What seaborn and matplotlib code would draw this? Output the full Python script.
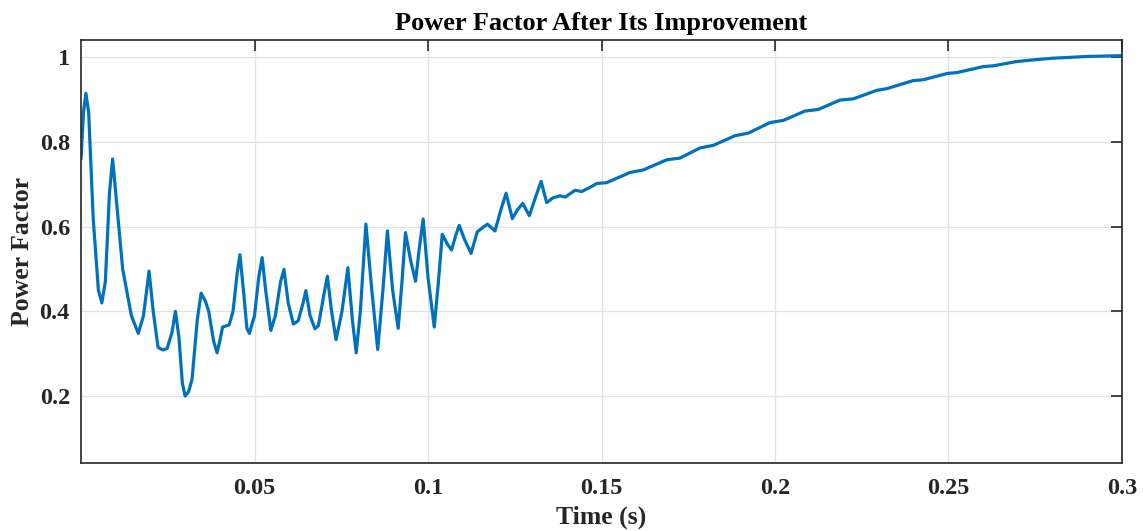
import numpy as np
import pandas as pd
import seaborn as sns
import matplotlib
matplotlib.use('Agg')
import matplotlib.pyplot as plt

# values
time_s = [0.0000, 0.0007, 0.0014, 0.0022, 0.0035, 0.0050, 0.0060, 0.0070, 0.0082, 0.0091,
          0.0100, 0.0120, 0.0145, 0.0165, 0.0180, 0.0196, 0.0208, 0.0222, 0.0235, 0.0248,
          0.0262, 0.0272, 0.0282, 0.0292, 0.0300, 0.0310, 0.0320, 0.0335, 0.0346, 0.0358,
          0.0368, 0.0382, 0.0392, 0.0400, 0.0408, 0.0427, 0.0438, 0.0450, 0.0458, 0.0468,
          0.0478, 0.0485, 0.0500, 0.0512, 0.0522, 0.0532, 0.0547, 0.0560, 0.0575, 0.0585,
          0.0597, 0.0612, 0.0626, 0.0640, 0.0648, 0.0660, 0.0674, 0.0684, 0.0700, 0.0710,
          0.0722, 0.0735, 0.0752, 0.0769, 0.0782, 0.0793, 0.0805, 0.0821, 0.0838, 0.0855,
          0.0870, 0.0883, 0.0898, 0.0914, 0.0925, 0.0935, 0.0950, 0.0964, 0.0975, 0.0986,
          0.1000, 0.1018, 0.1030, 0.1041, 0.1055, 0.1068, 0.1080, 0.1090, 0.1105, 0.1124,
          0.1142, 0.1171, 0.1193, 0.1210, 0.1225, 0.1243, 0.1258, 0.1273, 0.1292, 0.1310,
          0.1326, 0.1342, 0.1360, 0.1380, 0.1395, 0.1424, 0.1443, 0.1467, 0.1486, 0.1515,
          0.1582, 0.1620, 0.1688, 0.1726, 0.1784, 0.1822, 0.1885, 0.1923, 0.1986, 0.2024,
          0.2086, 0.2125, 0.2187, 0.2226, 0.2293, 0.2322, 0.2398, 0.2427, 0.2497, 0.2524,
          0.2600, 0.2629, 0.2696, 0.2744, 0.2802, 0.2898, 0.3000]
power_factor = [0.760, 0.870, 0.915, 0.870, 0.620, 0.450, 0.420, 0.470, 0.680, 0.760,
                0.680, 0.500, 0.390, 0.348, 0.390, 0.495, 0.400, 0.315, 0.309, 0.312,
                0.350, 0.400, 0.340, 0.230, 0.200, 0.210, 0.240, 0.380, 0.443, 0.425,
                0.400, 0.330, 0.302, 0.330, 0.363, 0.368, 0.400, 0.490, 0.534, 0.450,
                0.360, 0.348, 0.390, 0.480, 0.527, 0.450, 0.355, 0.390, 0.470, 0.499,
                0.420, 0.370, 0.378, 0.420, 0.449, 0.390, 0.359, 0.366, 0.440, 0.483,
                0.400, 0.333, 0.400, 0.503, 0.380, 0.302, 0.400, 0.606, 0.450, 0.310,
                0.450, 0.590, 0.450, 0.360, 0.470, 0.586, 0.520, 0.471, 0.550, 0.618,
                0.480, 0.363, 0.470, 0.582, 0.560, 0.545, 0.580, 0.603, 0.570, 0.537,
                0.588, 0.606, 0.590, 0.640, 0.679, 0.619, 0.640, 0.655, 0.626, 0.670,
                0.707, 0.657, 0.668, 0.673, 0.670, 0.686, 0.683, 0.693, 0.702, 0.704,
                0.728, 0.734, 0.758, 0.762, 0.786, 0.792, 0.815, 0.821, 0.846, 0.851,
                0.873, 0.877, 0.899, 0.902, 0.922, 0.926, 0.945, 0.947, 0.962, 0.964,
                0.978, 0.980, 0.990, 0.994, 0.998, 1.002, 1.004]

x_ticks = [0.05, 0.1, 0.15, 0.2, 0.25, 0.3]
x_tick_labels = ['0.05', '0.1', '0.15', '0.2', '0.25', '0.3']
y_ticks = [0.2, 0.4, 0.6, 0.8, 1.0]
y_tick_labels = ['0.2', '0.4', '0.6', '0.8', '1']

sns.set_style('white')
plt.rcParams['font.family'] = ['Liberation Serif', 'DejaVu Serif']
plt.rcParams['font.weight'] = 'bold'

df = pd.DataFrame({'time': time_s, 'pf': power_factor})

fig = plt.figure(figsize=(11.43, 5.31), dpi=100)
ax = fig.add_axes([0.0709, 0.1286, 0.9107, 0.7961])

sns.lineplot(x='time', y='pf', data=df, ax=ax, color='#0072BD', linewidth=2.3,
             solid_joinstyle='round', solid_capstyle='round')

ax.set_xlim(0, 0.3)
ax.set_ylim(0.0425, 1.041)
ax.set_xticks(x_ticks)
ax.set_xticklabels(x_tick_labels)
ax.set_yticks(y_ticks)
ax.set_yticklabels(y_tick_labels)

ax.grid(True, color='#e3e3e3', linewidth=0.9)
ax.set_axisbelow(True)
for s in ax.spines.values():
    s.set_color('#262626')
    s.set_linewidth(1.2)
    s.set_visible(True)

ax.tick_params(direction='in', length=8, width=1.2, color='#262626',
               top=True, right=True, labelsize=17.5, labelcolor='#262626')
ax.tick_params(axis='x', pad=11)
ax.tick_params(axis='y', pad=8)

ax.set_title('Power Factor After Its Improvement', fontsize=19, fontweight='bold',
             color='black', pad=7)
ax.set_xlabel('Time (s)', fontsize=18.5, fontweight='bold', color='#262626', labelpad=5)
ax.set_ylabel('Power Factor', fontsize=18.5, fontweight='bold', color='#262626', labelpad=4)

plt.savefig('out.png', dpi=100)
